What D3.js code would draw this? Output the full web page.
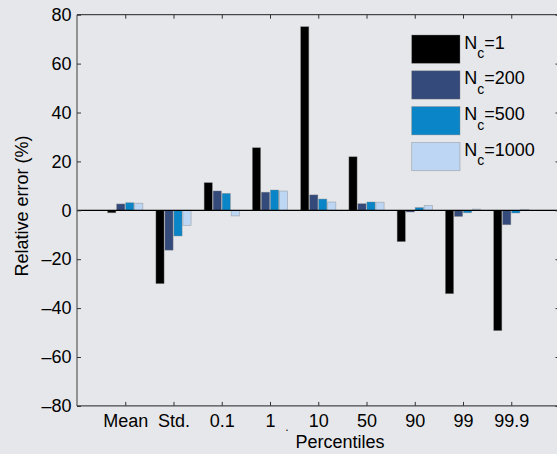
<!DOCTYPE html>
<html>
<head>
<meta charset="utf-8">
<script src="https://cdn.jsdelivr.net/npm/d3@7"></script>
<style>
  html, body { margin: 0; padding: 0; background: #e6e7ea; }
  svg { display: block; font-family: "Liberation Sans", Arial, Helvetica, sans-serif; }
</style>
</head>
<body>
<svg id="chart" width="557" height="454"></svg>
<script>
// Categories along the x axis
const categories = ["Mean", "Std.", "0.1", "1", "10", "50", "90", "99", "99.9"];

// Relative error (%) for each number of components N_c
const nc1    = [-1.0, -30.0, 11.3, 25.6, 75.1, 21.9, -12.8, -34.1, -49.2];
const nc200  = [ 2.6, -16.3,  7.9,  7.4,  6.3,  2.7,  -0.7,  -2.5,  -5.9];
const nc500  = [ 3.1, -10.5,  6.9,  8.3,  4.6,  3.4,   1.1,  -1.0,  -1.1];
const nc1000 = [ 2.9,  -6.2, -2.3,  7.9,  3.4,  3.3,   2.0,   0.5,   0.4];

const seriesLabels = ["1", "200", "500", "1000"];
const yTicks = [-80, -60, -40, -20, 0, 20, 40, 60, 80];

const seriesValues = [nc1, nc200, nc500, nc1000];
const colors = ["#000000", "#344a7b", "#0a86c8", "#bdd6f3"];

const svg = d3.select("#chart");
const W = 557, H = 454;
svg.append("rect").attr("width", W).attr("height", H).attr("fill", "#e6e7ea");

const plotLeft = 77, plotRight = 559.5, plotTop = 14.7, plotBottom = 405.9;
const x = d3.scaleLinear().domain([0, 10]).range([plotLeft, plotRight]);
const y = d3.scaleLinear().domain([-80, 80]).range([plotBottom, plotTop]);
const inner = d3.scaleBand().domain(d3.range(4)).range([-17.6, 17.6]).paddingInner(0.09);

const fmt = d => d < 0 ? "\u2013" + Math.abs(d) : String(d);

// Bars
const rows = [];
categories.forEach((c, i) => {
  seriesValues.forEach((vals, s) => rows.push({ i, s, v: vals[i] }));
});
svg.append("g").selectAll("rect").data(rows).join("rect")
  .attr("x", d => x(d.i + 1) + inner(d.s))
  .attr("width", inner.bandwidth())
  .attr("y", d => y(Math.max(0, d.v)))
  .attr("height", d => Math.abs(y(d.v) - y(0)))
  .attr("fill", d => colors[d.s])
  .attr("stroke", "rgba(130,130,130,0.55)")
  .attr("stroke-width", 0.7);

// Baseline at zero
svg.append("line")
  .attr("x1", plotLeft).attr("x2", plotRight)
  .attr("y1", y(0)).attr("y2", y(0))
  .attr("stroke", "#000").attr("stroke-width", 1.3);

// Axes (ticks point inward)
const fontSize = 18;
const gL = svg.append("g").attr("transform", `translate(${plotLeft},0)`)
  .call(d3.axisLeft(y).tickValues(yTicks).tickSize(-4).tickPadding(5.5).tickFormat(fmt));
const gR = svg.append("g").attr("transform", `translate(${plotRight},0)`)
  .call(d3.axisRight(y).tickValues(yTicks).tickSize(-4).tickFormat(""));
const gB = svg.append("g").attr("transform", `translate(0,${plotBottom})`)
  .call(d3.axisBottom(x).tickValues(d3.range(1, 10)).tickSize(-4).tickPadding(8)
    .tickFormat(d => categories[d - 1]));
const gT = svg.append("g").attr("transform", `translate(0,${plotTop})`)
  .call(d3.axisTop(x).tickValues(d3.range(1, 10)).tickSize(-4).tickFormat(""));

[gL, gR, gB, gT].forEach(g => {
  g.selectAll("text").attr("font-size", fontSize).attr("fill", "#000")
    .attr("font-family", "'Liberation Sans', Arial, sans-serif");
  g.selectAll("line").attr("stroke", "#333");
});
gL.select(".domain").attr("d", `M0,${plotTop}V${plotBottom}`).attr("stroke", "#6e6e6e").attr("stroke-width", 1.4);
gR.select(".domain").attr("d", `M0,${plotTop}V${plotBottom}`).attr("stroke", "#6e6e6e").attr("stroke-width", 1.4);
gB.select(".domain").attr("d", `M${plotLeft},0H${plotRight}`).attr("stroke", "#222");
gT.select(".domain").attr("d", `M${plotLeft},0H${plotRight}`).attr("stroke", "#222");

// Axis titles
svg.append("text")
  .attr("transform", `translate(28,206) rotate(-90)`)
  .attr("text-anchor", "middle")
  .attr("font-size", fontSize)
  .text("Relative error (%)");
svg.append("text")
  .attr("x", 340).attr("y", 448)
  .attr("text-anchor", "middle")
  .attr("font-size", fontSize)
  .text("Percentiles");
svg.append("text")
  .attr("x", 287).attr("y", 431)
  .attr("text-anchor", "middle")
  .attr("font-size", 12)
  .text(".");

// Legend
const lg = svg.append("g").attr("transform", "translate(411.7,35)");
seriesLabels.forEach((lab, s) => {
  const row = lg.append("g").attr("transform", `translate(0,${s * 35.8})`);
  row.append("rect").attr("width", 48.3).attr("height", 28.3)
    .attr("fill", colors[s]).attr("stroke", "rgba(130,130,130,0.55)").attr("stroke-width", 0.7);
  const t = row.append("text").attr("x", 52.5).attr("y", 13.5).attr("font-size", fontSize);
  t.append("tspan").text("N");
  t.append("tspan").attr("font-size", 14).attr("dy", 9.5).text("c");
  t.append("tspan").attr("dy", -9.5).text("=" + lab);
});
</script>
</body>
</html>
